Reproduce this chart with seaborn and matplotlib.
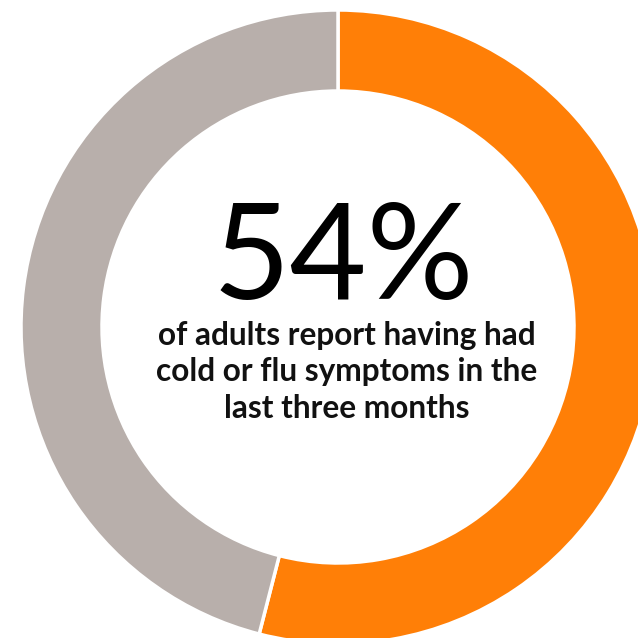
import matplotlib
matplotlib.use("Agg")
import matplotlib.pyplot as plt
import seaborn as sns

# Share of adults reporting cold/flu symptoms in the last three months
categories = ["Had symptoms", "No symptoms"]
shares = [54, 46]
colors = ["#FF7F07", "#B8AFAB"]
headline = "54%"
caption = "of adults report having had\ncold or flu symptoms in the\nlast three months"

sns.set_theme(style="white")
plt.rcParams["font.family"] = ["Lato", "DejaVu Sans"]

H = 638
fig = plt.figure(figsize=(6.38, 6.38), dpi=100)
ax = fig.add_axes([0, 0, 1, 1])

ax.pie(shares, colors=colors, startangle=90, counterclock=False,
       radius=317, center=(338, H - 327),
       wedgeprops=dict(width=81, edgecolor="white", linewidth=2.5))
ax.set_xlim(0, H)
ax.set_ylim(0, H)
ax.set_aspect("equal")
ax.axis("off")

ax.text(343, H - 299, headline, ha="center", va="baseline", fontsize=96,
        fontweight="normal", color="black")
ax.text(347, H - 372, caption, ha="center", va="center", fontsize=22.8,
        fontweight="bold", color="#111111", linespacing=1.3)

fig.savefig("out.png", dpi=100)
